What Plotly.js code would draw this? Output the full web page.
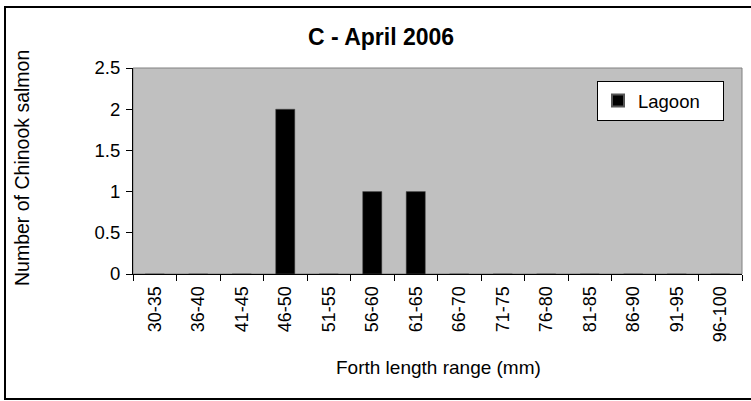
<!DOCTYPE html>
<html>
<head>
<meta charset="utf-8">
<script src="https://cdn.plot.ly/plotly-3.0.1.min.js"></script>
<style>html,body{margin:0;padding:0;background:#fff;}#chart{width:751px;height:401px;}</style>
</head>
<body>
<div id="chart"></div>
<script>
const categories = ["30-35","36-40","41-45","46-50","51-55","56-60","61-65","66-70","71-75","76-80","81-85","86-90","91-95","96-100"];
const lagoon = [0,0,0,2,0,1,1,0,0,0,0,0,0,0];
const seriesName = "Lagoon";
const chartTitle = "C - April 2006";
const xTitle = "Forth length range (mm)";
const yTitle = "Number of Chinook salmon";

const W = 751, H = 401;
const L = 133, R = 742, T = 68, B = 274;
const px = x => (x - L) / (R - L);
const py = y => (B - y) / (B - T);
const FONT = "Liberation Sans, Arial, sans-serif";

const data = [{
  type: "bar",
  x: categories,
  y: lagoon,
  name: seriesName,
  width: 0.44,
  marker: {color: "#000000", line: {color: "#555555", width: 0.5}},
  showlegend: true
}];

const layout = {
  width: W, height: H,
  margin: {l: L, r: W - R, t: T, b: H - B, pad: 0},
  paper_bgcolor: "#ffffff",
  plot_bgcolor: "#c0c0c0",
  font: {family: FONT, size: 18, color: "#000"},
  showlegend: true,
  bargap: 0,
  xaxis: {
    type: "category",
    tickangle: -90,
    ticks: "outside", ticklen: 6, tickcolor: "#000", tickwidth: 1,
    tickson: "boundaries",
    showline: true, linecolor: "#000", linewidth: 1,
    showgrid: false, zeroline: false,
    tickfont: {family: FONT, size: 18, color: "#000"},
    ticklabelstandoff: 4,
    fixedrange: true
  },
  yaxis: {
    range: [0, 2.5], dtick: 0.5, tick0: 0,
    ticks: "outside", ticklen: 6, tickcolor: "#000", tickwidth: 1,
    showline: true, linecolor: "#000", linewidth: 1,
    showgrid: false, zeroline: false,
    tickfont: {family: FONT, size: 18.5, color: "#000"},
    ticklabelstandoff: 2,
    fixedrange: true
  },
  legend: {
    orientation: "h",
    x: px(597), xanchor: "left", xref: "paper",
    y: py(81), yanchor: "top", yref: "paper",
    bgcolor: "#ffffff", bordercolor: "#000", borderwidth: 1,
    font: {family: FONT, size: 18.5, color: "#000"},
    itemsizing: "constant",
    itemwidth: 30,
    entrywidth: 80,
    tracegroupgap: 0
  },
  shapes: [
    {type: "rect", xref: "paper", yref: "paper", x0: 0, x1: 1, y0: 0, y1: 1,
     line: {color: "#808080", width: 1}, fillcolor: "rgba(0,0,0,0)", layer: "below"},
    {type: "rect", xref: "paper", yref: "paper", x0: px(5), x1: px(770), y0: py(7), y1: py(399),
     line: {color: "#000", width: 2}, fillcolor: "rgba(0,0,0,0)"}
  ],
  annotations: [
    {text: "<b>" + chartTitle + "</b>", xref: "paper", yref: "paper", x: px(381), y: py(37),
     xanchor: "center", yanchor: "middle", showarrow: false, font: {family: FONT, size: 23, color: "#000"}},
    {text: xTitle, xref: "paper", yref: "paper", x: px(438), y: py(367),
     xanchor: "center", yanchor: "middle", showarrow: false, font: {family: FONT, size: 19, color: "#000"}},
    {text: yTitle, xref: "paper", yref: "paper", x: px(22), y: py(168), textangle: -90,
     xanchor: "center", yanchor: "middle", showarrow: false, font: {family: FONT, size: 19.5, color: "#000"}}
  ]
};

Plotly.newPlot("chart", data, layout, {displayModeBar: false, staticPlot: true});
</script>
</body>
</html>
